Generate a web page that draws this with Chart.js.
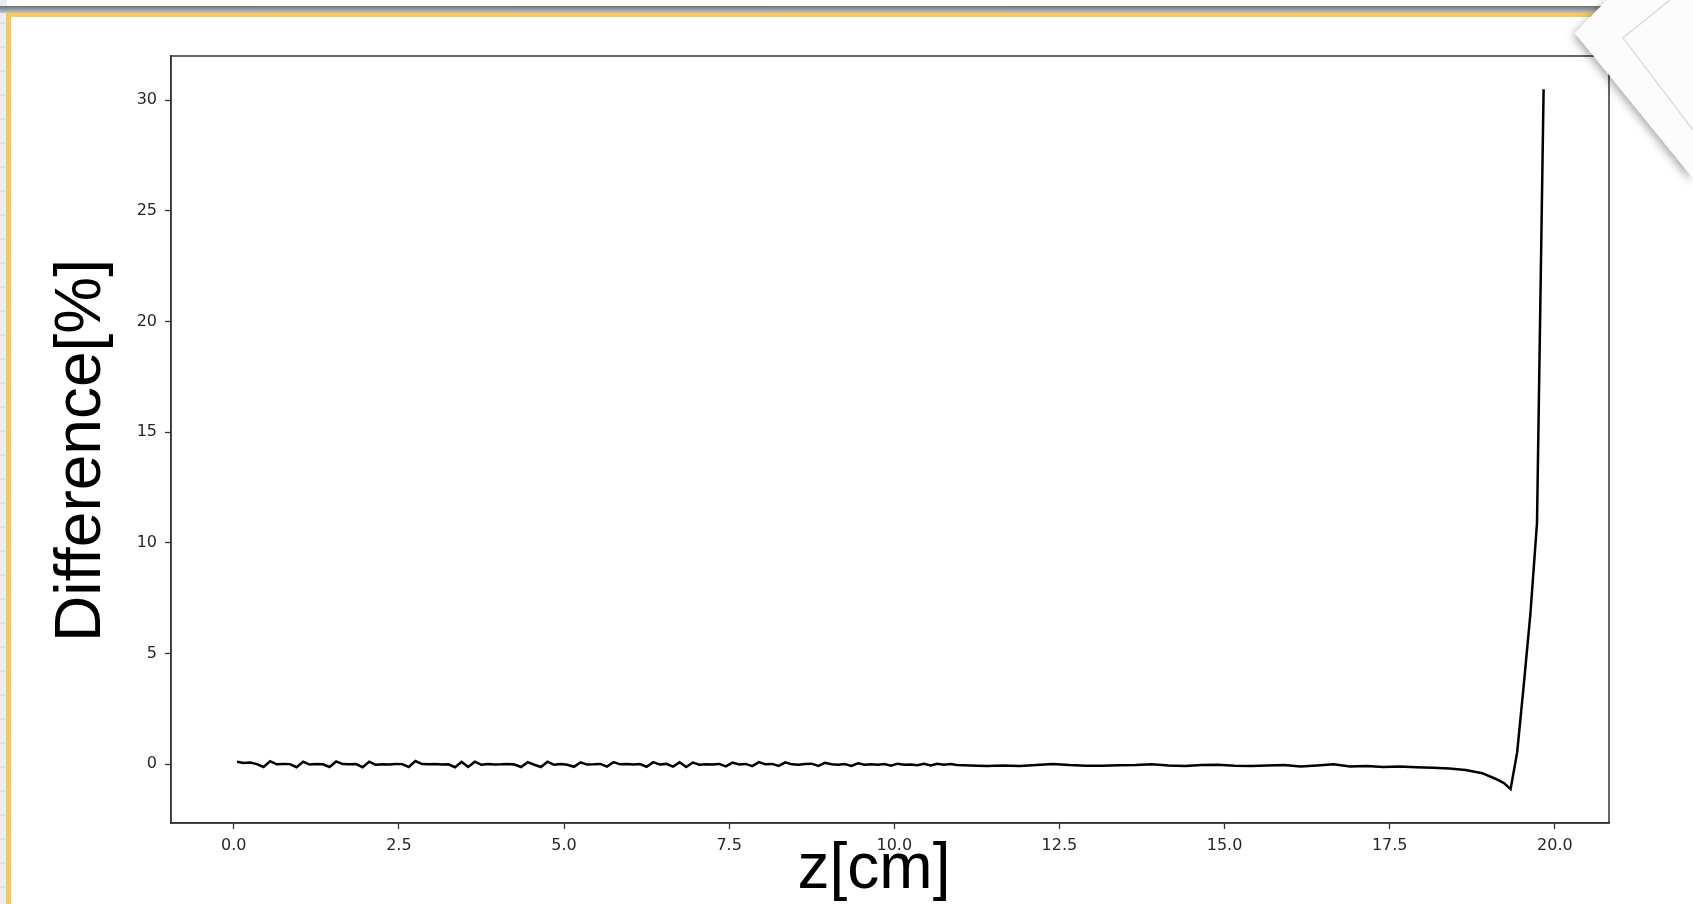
<!DOCTYPE html>
<html>
<head>
<meta charset="utf-8">
<script src="https://cdn.jsdelivr.net/npm/chart.js@4/dist/chart.umd.min.js"></script>
<style>
  html, body { margin: 0; padding: 0; background: #fff; overflow: hidden; }
  #page { position: relative; width: 1693px; height: 904px; }
  .paper { position: absolute; left: 0; top: 0; width: 7px; height: 904px;
    background: repeating-linear-gradient(180deg, #e7edf1 0 22px, #d6e3ec 22px 24px); }
  .shadow { position: absolute; left: 0; top: 6px; width: 1693px; height: 7px;
    background: linear-gradient(180deg, #6d7174, #c4c6c8); }
  .frame { position: absolute; left: 6px; top: 13px; right: 0; bottom: 0;
    border-top: 4px solid #f6c85c; border-left: 5px solid #f6c85c; background: #fff; }
  #c { position: absolute; left: 0; top: 0; }
  #fold { position: absolute; left: 0; top: 0; pointer-events: none; }
</style>
</head>
<body>
<div id="page">
  <div class="paper"></div>
  <div class="shadow"></div>
  <div class="frame"></div>
  <canvas id="c" width="1693" height="904"></canvas>
  <svg id="fold" width="1693" height="904">
    <defs>
      <filter id="sh" x="-50%" y="-50%" width="200%" height="200%">
        <feGaussianBlur in="SourceAlpha" stdDeviation="5"/>
        <feOffset dx="-2" dy="3"/>
        <feComponentTransfer><feFuncA type="linear" slope="0.35"/></feComponentTransfer>
        <feMerge><feMergeNode/><feMergeNode in="SourceGraphic"/></feMerge>
      </filter>
    </defs>
    <polygon points="1607,0 1575,33 1693,178 1693,0" fill="#fcfcfc" filter="url(#sh)"/>
    <polyline points="1670,0 1623,38 1693,130" fill="none" stroke="#dcdcdc" stroke-width="1.5"/>
  </svg>
</div>
<script>
// z positions [cm]
var zValues = [
  0.05, 0.15, 0.25, 0.35, 0.45, 0.55, 0.65, 0.75, 0.85, 0.95,
  1.05, 1.15, 1.25, 1.35, 1.45, 1.55, 1.65, 1.75, 1.85, 1.95,
  2.05, 2.15, 2.25, 2.35, 2.45, 2.55, 2.65, 2.75, 2.85, 2.95,
  3.05, 3.15, 3.25, 3.35, 3.45, 3.55, 3.65, 3.75, 3.85, 3.95,
  4.05, 4.15, 4.25, 4.35, 4.45, 4.55, 4.65, 4.75, 4.85, 4.95,
  5.05, 5.15, 5.25, 5.35, 5.45, 5.55, 5.65, 5.75, 5.85, 5.95,
  6.05, 6.15, 6.25, 6.35, 6.45, 6.55, 6.65, 6.75, 6.85, 6.95,
  7.05, 7.15, 7.25, 7.35, 7.45, 7.55, 7.65, 7.75, 7.85, 7.95,
  8.05, 8.15, 8.25, 8.35, 8.45, 8.55, 8.65, 8.75, 8.85, 8.95,
  9.05, 9.15, 9.25, 9.35, 9.45, 9.55, 9.65, 9.75, 9.85, 9.95,
  10.05, 10.15, 10.25, 10.35, 10.45, 10.55, 10.65, 10.75, 10.85, 10.95,
  11.15, 11.4, 11.65, 11.9, 12.15, 12.4, 12.65, 12.9, 13.15, 13.4,
  13.65, 13.9, 14.15, 14.4, 14.65, 14.9, 15.15, 15.4, 15.65, 15.9,
  16.15, 16.4, 16.65, 16.9, 17.15, 17.4, 17.65, 17.9, 18.15, 18.4,
  18.65, 18.9, 19.1, 19.23, 19.33, 19.43, 19.53, 19.63, 19.73, 19.83
];

// difference [%]
var diffValues = [
  0.12, 0.06, 0.08, 0.01, -0.12, 0.14, 0.00, 0.02, 0.01, -0.13,
  0.12, -0.01, 0.01, 0.00, -0.12, 0.13, 0.01, 0.00, 0.02, -0.13,
  0.12, -0.02, 0.00, -0.01, 0.02, 0.01, -0.12, 0.15, 0.01, 0.00,
  0.02, -0.01, 0.00, -0.13, 0.11, -0.12, 0.12, -0.02, 0.01, -0.01,
  0.00, 0.02, -0.01, -0.12, 0.10, -0.02, -0.12, 0.12, -0.02, 0.01,
  -0.02, -0.11, 0.09, -0.01, 0.00, 0.02, -0.10, 0.10, 0.00, 0.02,
  -0.01, 0.01, -0.11, 0.10, -0.01, 0.02, -0.10, 0.09, -0.12, 0.08,
  -0.02, 0.00, -0.01, 0.02, -0.09, 0.08, -0.01, 0.02, -0.08, 0.10,
  0.00, 0.02, -0.07, 0.09, 0.00, -0.02, 0.01, 0.03, -0.07, 0.07,
  0.00, -0.02, 0.01, -0.07, 0.05, -0.02, 0.00, -0.02, 0.01, -0.06,
  0.03, -0.02, -0.01, -0.04, 0.02, -0.05, 0.03, -0.02, 0.01, -0.03,
  -0.05, -0.08, -0.05, -0.07, -0.03, 0.02, -0.03, -0.06, -0.06, -0.04,
  -0.03, 0.00, -0.05, -0.08, -0.03, -0.02, -0.06, -0.08, -0.05, -0.03,
  -0.10, -0.05, 0.00, -0.10, -0.08, -0.12, -0.10, -0.13, -0.15, -0.19,
  -0.26, -0.40, -0.65, -0.85, -1.12, 0.55, 3.60, 6.80, 10.90, 30.50
];

var xTicks = [0, 2.5, 5, 7.5, 10, 12.5, 15, 17.5, 20];
var xTickLabels = ['0.0', '2.5', '5.0', '7.5', '10.0', '12.5', '15.0', '17.5', '20.0'];
var yTicks = [0, 5, 10, 15, 20, 25, 30];
var yTickLabels = ['0', '5', '10', '15', '20', '25', '30'];
var xTitle = 'z[cm]';
var yTitle = 'Difference[%]';

var points = zValues.map(function (z, i) { return { x: z, y: diffValues[i] }; });

// matplotlib style closed box around the axes, plus the big axis labels
var boxPlugin = {
  id: 'box',
  afterDraw: function (chart) {
    var a = chart.chartArea, ctx = chart.ctx;
    ctx.save();
    ctx.strokeStyle = '#333';
    ctx.lineWidth = 1.5;
    ctx.strokeRect(a.left, a.top, a.right - a.left, a.bottom - a.top);

    ctx.fillStyle = '#000';
    ctx.font = '64px "Liberation Sans"';
    ctx.textAlign = 'center';
    ctx.textBaseline = 'alphabetic';
    ctx.fillText(xTitle, (a.left + a.right) / 2 - 16, a.bottom + 65);

    ctx.translate(a.left - 71, (a.top + a.bottom) / 2 + 11);
    ctx.rotate(-Math.PI / 2);
    ctx.fillText(yTitle, 0, 0);
    ctx.restore();
  }
};

var tickFont = { family: 'DejaVu Sans', size: 16 };

new Chart(document.getElementById('c'), {
  type: 'line',
  data: {
    datasets: [{
      label: 'Difference',
      data: points,
      borderColor: '#000',
      borderWidth: 2.5,
      pointRadius: 0,
      tension: 0,
      fill: false
    }]
  },
  options: {
    responsive: false,
    animation: false,
    layout: { padding: { left: 41, top: 56, right: 84, bottom: 1 } },
    plugins: { legend: { display: false }, tooltip: { enabled: false } },
    scales: {
      x: {
        type: 'linear',
        min: -0.95,
        max: 20.82,
        afterFit: function (s) { s.height = 80; },
        afterBuildTicks: function (s) { s.ticks = xTicks.map(function (v) { return { value: v }; }); },
        ticks: {
          font: tickFont,
          color: '#262626',
          padding: 7,
          maxRotation: 0,
          callback: function (v, i) { return xTickLabels[i]; }
        },
        grid: { drawOnChartArea: false, drawTicks: true, tickLength: 6, color: '#333', tickWidth: 1.3 },
        border: { display: true, color: '#333', width: 1.5 }
      },
      y: {
        type: 'linear',
        min: -2.65,
        max: 32.0,
        afterFit: function (s) { s.width = 130; },
        afterBuildTicks: function (s) { s.ticks = yTicks.map(function (v) { return { value: v }; }); },
        ticks: {
          font: tickFont,
          color: '#262626',
          padding: 8,
          callback: function (v, i) { return yTickLabels[i]; }
        },
        grid: { drawOnChartArea: false, drawTicks: true, tickLength: 6, color: '#333', tickWidth: 1.3 },
        border: { display: true, color: '#333', width: 1.5 }
      }
    }
  },
  plugins: [boxPlugin]
});
</script>
</body>
</html>
